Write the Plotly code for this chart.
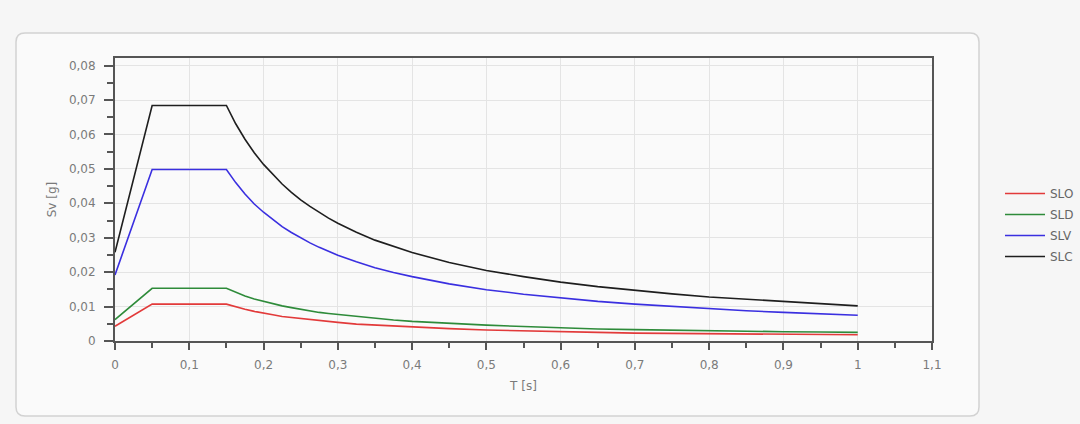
import plotly.graph_objects as go

# Periods T [s]
T = [0.0, 0.05, 0.15, 0.1625, 0.175, 0.1875, 0.2, 0.2125, 0.225, 0.2375, 0.25, 0.2625,
     0.275, 0.2875, 0.3, 0.325, 0.35, 0.375, 0.4, 0.45, 0.5, 0.55, 0.6, 0.65, 0.7,
     0.75, 0.8, 0.85, 0.9, 0.95, 1.0]

# Vertical spectral accelerations Sv [g] for each limit state
SLO = [0.0043, 0.0107, 0.0107, 0.0099, 0.0092, 0.0086, 0.0080, 0.0076, 0.0071, 0.0068,
       0.0064, 0.0061, 0.0058, 0.0056, 0.0054, 0.0049, 0.0046, 0.0043, 0.0040, 0.0036,
       0.0032, 0.0029, 0.0027, 0.0025, 0.0023, 0.0022, 0.0021, 0.0020, 0.0019, 0.0018,
       0.0018]
SLD = [0.0062, 0.0153, 0.0153, 0.0141, 0.0131, 0.0122, 0.0115, 0.0108, 0.0102, 0.0097,
       0.0092, 0.0087, 0.0083, 0.0080, 0.0077, 0.0071, 0.0066, 0.0061, 0.0057, 0.0051,
       0.0046, 0.0042, 0.0038, 0.0035, 0.0033, 0.0031, 0.0030, 0.0028, 0.0027, 0.0026,
       0.0025]
SLV = [0.0192, 0.0498, 0.0498, 0.0460, 0.0427, 0.0398, 0.0374, 0.0352, 0.0332, 0.0315,
       0.0299, 0.0285, 0.0272, 0.0260, 0.0249, 0.0230, 0.0213, 0.0199, 0.0187, 0.0166,
       0.0149, 0.0136, 0.0125, 0.0115, 0.0107, 0.0100, 0.0093, 0.0088, 0.0083, 0.0079,
       0.0075]
SLC = [0.0258, 0.0684, 0.0684, 0.0631, 0.0586, 0.0547, 0.0513, 0.0483, 0.0456, 0.0432,
       0.0410, 0.0391, 0.0373, 0.0357, 0.0342, 0.0316, 0.0293, 0.0274, 0.0257, 0.0228,
       0.0205, 0.0187, 0.0171, 0.0158, 0.0147, 0.0137, 0.0128, 0.0121, 0.0114, 0.0108,
       0.0102]

series = [("SLO", SLO, "#e23a3a"), ("SLD", SLD, "#2e8b3a"),
          ("SLV", SLV, "#3a2fe0"), ("SLC", SLC, "#1e1e1e")]

fig = go.Figure()
for name, vals, color in series:
    fig.add_trace(go.Scatter(x=T, y=vals, name=name, mode="lines", legendgroup=name,
                             line=dict(color=color, width=1.6)))

W, H = 1080, 424
L, R, TOP, BOT = 115, 932, 58, 341
pw, ph = R - L, BOT - TOP


def px(x):
    return (x - L) / pw


def py(y):
    return (BOT - y) / ph


# Rounded frame around the chart panel
x0, x1, y0, y1, r = 16, 979, 33, 416, 9
path = (f"M {px(x0 + r)},{py(y0)} L {px(x1 - r)},{py(y0)} "
        f"Q {px(x1)},{py(y0)} {px(x1)},{py(y0 + r)} "
        f"L {px(x1)},{py(y1 - r)} Q {px(x1)},{py(y1)} {px(x1 - r)},{py(y1)} "
        f"L {px(x0 + r)},{py(y1)} Q {px(x0)},{py(y1)} {px(x0)},{py(y1 - r)} "
        f"L {px(x0)},{py(y0 + r)} Q {px(x0)},{py(y0)} {px(x0 + r)},{py(y0)} Z")

fig.add_shape(type="path", path=path, xref="paper", yref="paper",
              line=dict(color="#d2d2d2", width=1.5), fillcolor="#fafafa",
              layer="below")

tickfont = dict(family="DejaVu Sans, Verdana, sans-serif", size=12, color="#7a7a7a")

fig.update_layout(
    width=W, height=H,
    margin=dict(l=L, r=W - R, t=TOP, b=H - BOT, pad=0, autoexpand=False),
    paper_bgcolor="#f6f6f6",
    plot_bgcolor="#fafafa",
    separators=",.",
    font=dict(family="DejaVu Sans, Verdana, sans-serif", color="#6a6a6a"),
    showlegend=True,
    legend=dict(x=px(1000), y=py(225), xanchor="left", yanchor="middle",
                bgcolor="rgba(0,0,0,0)", font=dict(size=12, color="#666666"),
                tracegroupgap=2, itemwidth=40),
    xaxis=dict(
        range=[0, 1.1], dtick=0.1, tick0=0,
        showgrid=True, gridcolor="#e4e4e4", gridwidth=1,
        showline=True, linecolor="#555555", linewidth=2, mirror=True,
        ticks="outside", ticklen=7, tickwidth=2, tickcolor="#555555",
        minor=dict(dtick=0.05, ticks="outside", ticklen=5, tickwidth=2,
                   tickcolor="#555555", showgrid=False),
        tickfont=tickfont, ticklabelstandoff=5,
        zeroline=False,
        title=dict(text="T [s]", font=dict(size=12, color="#7a7a7a"), standoff=10),
    ),
    yaxis=dict(
        range=[0, 0.0822], dtick=0.01, tick0=0,
        showgrid=True, gridcolor="#e4e4e4", gridwidth=1,
        showline=True, linecolor="#555555", linewidth=2, mirror=True,
        ticks="outside", ticklen=9, tickwidth=2, tickcolor="#555555",
        minor=dict(dtick=0.005, ticks="outside", ticklen=6, tickwidth=2,
                   tickcolor="#555555", showgrid=False),
        tickfont=tickfont, ticklabelstandoff=6,
        zeroline=False,
        title=dict(text="Sv [g]", font=dict(size=12, color="#7a7a7a"), standoff=10),
    ),
)

fig.write_html("out.html")
